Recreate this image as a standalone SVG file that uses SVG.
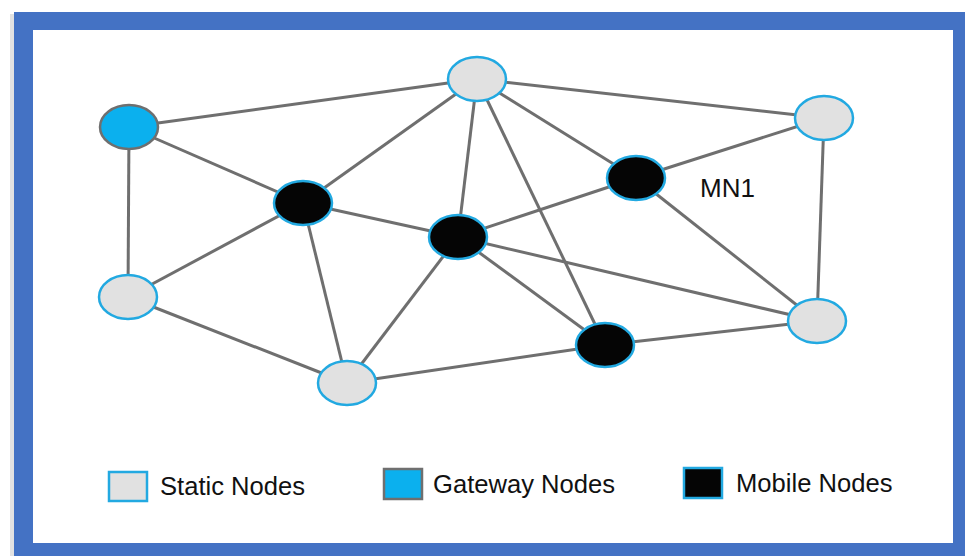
<svg xmlns="http://www.w3.org/2000/svg" width="965" height="556" viewBox="0 0 965 556">
  <style>
    .edge { stroke: #6f6f6f; stroke-width: 3; fill: none; }
    .static { fill: #e1e1e1; stroke: #22a9e1; stroke-width: 2.5; }
    .mobile { fill: #050505; stroke: #22a9e1; stroke-width: 2.5; }
    .gateway { fill: #0bb0ee; stroke: #6f6f6f; stroke-width: 2.5; }
    .label { font-family: "Liberation Sans", Arial, sans-serif; fill: #111; }
  </style>
  <rect x="0" y="0" width="965" height="556" fill="#ffffff"/>
  <rect x="10" y="14" width="6" height="542" fill="#e2e2e2"/>
  <rect x="14" y="12" width="951" height="544" fill="#4472c4"/>
  <rect x="33" y="30" width="920" height="513" fill="#ffffff"/>

  <g id="connectors">
    <line class="edge" x1="129" y1="127" x2="477" y2="79"/>
    <line class="edge" x1="129" y1="127" x2="303" y2="203"/>
    <line class="edge" x1="129" y1="127" x2="128" y2="297"/>
    <line class="edge" x1="477" y1="79" x2="303" y2="203"/>
    <line class="edge" x1="477" y1="79" x2="458" y2="237"/>
    <line class="edge" x1="477" y1="79" x2="636" y2="178"/>
    <line class="edge" x1="477" y1="79" x2="605" y2="345"/>
    <line class="edge" x1="477" y1="79" x2="824" y2="118"/>
    <line class="edge" x1="824" y1="118" x2="636" y2="178"/>
    <line class="edge" x1="824" y1="118" x2="817" y2="321"/>
    <line class="edge" x1="636" y1="178" x2="458" y2="237"/>
    <line class="edge" x1="636" y1="178" x2="817" y2="321"/>
    <line class="edge" x1="458" y1="237" x2="303" y2="203"/>
    <line class="edge" x1="458" y1="237" x2="347" y2="383"/>
    <line class="edge" x1="458" y1="237" x2="605" y2="345"/>
    <line class="edge" x1="458" y1="237" x2="817" y2="321"/>
    <line class="edge" x1="303" y1="203" x2="128" y2="297"/>
    <line class="edge" x1="303" y1="203" x2="347" y2="383"/>
    <line class="edge" x1="128" y1="297" x2="347" y2="383"/>
    <line class="edge" x1="347" y1="383" x2="605" y2="345"/>
    <line class="edge" x1="605" y1="345" x2="817" y2="321"/>
  </g>

  <g id="gateway1"><ellipse class="gateway" cx="129" cy="127" rx="29" ry="22"/></g>
  <g id="static1"><ellipse class="static" cx="477" cy="79" rx="29" ry="22"/></g>
  <g id="static2"><ellipse class="static" cx="824" cy="118" rx="29" ry="22"/></g>
  <g id="static3"><ellipse class="static" cx="128" cy="297" rx="29" ry="22"/></g>
  <g id="static4"><ellipse class="static" cx="347" cy="383" rx="29" ry="22"/></g>
  <g id="static5"><ellipse class="static" cx="817" cy="321" rx="29" ry="22"/></g>
  <g id="mobile1"><ellipse class="mobile" cx="303" cy="203" rx="29" ry="22"/></g>
  <g id="mobile2"><ellipse class="mobile" cx="458" cy="237" rx="29" ry="22"/></g>
  <g id="mobile3"><ellipse class="mobile" cx="636" cy="178" rx="29" ry="22"/>
    <text class="label" x="700" y="197" font-size="26">MN1</text></g>
  <g id="mobile4"><ellipse class="mobile" cx="605" cy="345" rx="29" ry="22"/></g>

  <g id="legend">
    <rect class="static" x="109" y="472" width="38" height="29"/>
    <text class="label" x="160" y="495" font-size="25.6">Static Nodes</text>
    <rect class="gateway" x="384" y="469" width="38" height="30"/>
    <text class="label" x="433" y="493" font-size="25.6">Gateway Nodes</text>
    <rect class="mobile" x="684" y="468" width="38" height="30"/>
    <text class="label" x="736" y="492" font-size="25.6">Mobile Nodes</text>
  </g>
</svg>
